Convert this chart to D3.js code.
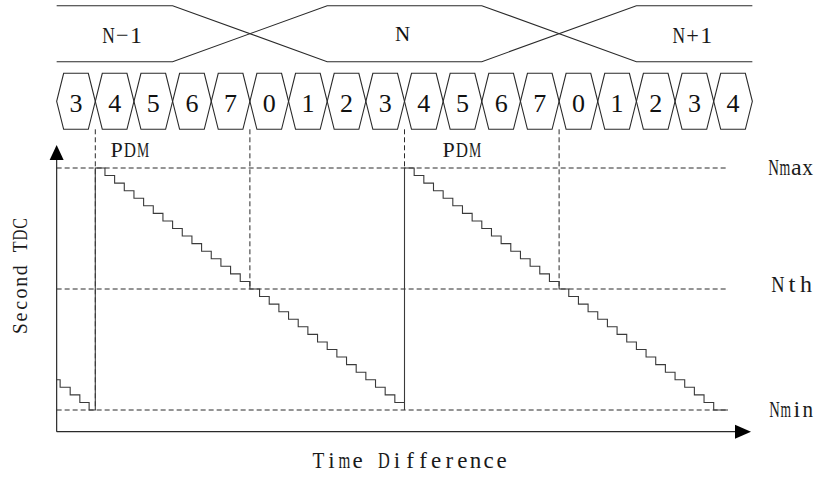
<!DOCTYPE html>
<html>
<head>
<meta charset="utf-8">
<script src="https://cdn.jsdelivr.net/npm/d3@7"></script>
<style>
  html, body { margin: 0; padding: 0; background: #fff; }
  svg { display: block; }
  .mono { font-family: "Liberation Serif", "DejaVu Serif", serif; fill: #1a1a1a; white-space: pre; }
  .serif { font-family: "Liberation Serif", "DejaVu Serif", serif; fill: #111; }
</style>
</head>
<body>
<svg id="chart" width="829" height="479"></svg>
<script>
// ---------- data ----------
const cellLabels = ["3","4","5","6","7","0","1","2","3","4","5","6","7","0","1","2","3","4"];
const frameLabels = ["N\u22121", "N", "N+1"];
const frameLabelT = [1.7, 8.95, 16.45];
const frameEdgesT = [0, 3, 7, 11, 15, 18];   // flat / crossing boundaries of the frame band
const levelNames = ["Nmax", "Nth", "Nmin"];
const levelCodes = [32, 16, 0];
const markerT = [1, 5, 9, 13];
const markerEndCode = [0, 16, 0, 16];
const pdmT = [1.38, 9.97];
const stairT = [
  0, 0.09, 0.35, 0.6, 0.84, 1,
  1, 1.25, 1.5, 1.75, 2, 2.25, 2.5, 2.75, 3, 3.25, 3.5, 3.75, 4, 4.25, 4.5, 4.75,
  5, 5.25, 5.5, 5.75, 6, 6.25, 6.5, 6.75, 7, 7.25, 7.5, 7.75, 8, 8.25, 8.5, 8.75, 9,
  9, 9.25, 9.5, 9.75, 10, 10.25, 10.5, 10.75, 11, 11.25, 11.5, 11.75, 12, 12.25, 12.5, 12.75,
  13, 13.25, 13.5, 13.75, 14, 14.25, 14.5, 14.75, 15, 15.25, 15.5, 15.75, 16, 16.25, 16.5, 16.75, 17,
  17.37
];
const stairCode = [
  4, 3, 2, 1, 0, 0,
  32, 31, 30, 29, 28, 27, 26, 25, 24, 23, 22, 21, 20, 19, 18, 17,
  16, 15, 14, 13, 12, 11, 10, 9, 8, 7, 6, 5, 4, 3, 2, 1, 0,
  32, 31, 30, 29, 28, 27, 26, 25, 24, 23, 22, 21, 20, 19, 18, 17,
  16, 15, 14, 13, 12, 11, 10, 9, 8, 7, 6, 5, 4, 3, 2, 1, 0,
  0
];
const levelLineEndT = 17.37;
const xAxisTitle = "Time Difference";
const yAxisTitle = "Second TDC";

// ---------- layout ----------
const svg = d3.select("#chart");
const x = d3.scaleLinear().domain([0, 18]).range([56.65, 752.35]);
const y = d3.scaleLinear().domain([0, 32]).range([410, 168]);
const ink = "#2a2a2a";

// fixed-pitch serif text: one text element, one tspan per character,
// each glyph squeezed/stretched into a half-width cell (like a Song-style CJK font)
function pitchText(parent, str, o) {
  const chars = Array.from(str);
  const n = chars.length;
  const c0 = o.anchor === "middle" ? -(n - 1) / 2 * o.pitch : o.pitch / 2;
  const t = parent.append("text").attr("class", "mono")
    .attr("transform", `translate(${o.x},${o.y})${o.rotate ? ` rotate(${o.rotate})` : ""}`)
    .attr("font-size", o.size).attr("text-anchor", "middle");
  const spans = t.selectAll("tspan").data(chars).join("tspan")
    .attr("x", (d, i) => c0 + i * o.pitch).attr("y", 0).text(d => d);
  const hi = o.pitch * (o.hi || 0.88), lo = o.pitch * (o.lo || 0.5);
  spans.each(function (d) {
    if (d === " ") return;
    const w = this.getComputedTextLength();
    const target = Math.max(lo, Math.min(hi, w));
    if (Math.abs(target - w) > 0.3) {
      d3.select(this).attr("textLength", target).attr("lengthAdjust", "spacingAndGlyphs");
    }
  });
  return t;
}

// frame band
const bandTop = 5.7, bandBot = 61.7;
const lineA = [[frameEdgesT[0], bandTop], [frameEdgesT[1], bandTop], [frameEdgesT[2], bandBot],
               [frameEdgesT[3], bandBot], [frameEdgesT[4], bandTop], [frameEdgesT[5], bandTop]];
const lineB = [[frameEdgesT[0], bandBot], [frameEdgesT[1], bandBot], [frameEdgesT[2], bandTop],
               [frameEdgesT[3], bandTop], [frameEdgesT[4], bandBot], [frameEdgesT[5], bandBot]];
const bandLine = d3.line().x(d => x(d[0])).y(d => d[1]);
svg.selectAll("path.band").data([lineA, lineB]).join("path")
  .attr("class", "band").attr("d", bandLine)
  .attr("fill", "none").attr("stroke", ink).attr("stroke-width", 1.1);

frameLabels.forEach((lab, i) => {
  if (i === 1) {
    svg.append("text").attr("class", "serif")
      .attr("x", x(frameLabelT[i])).attr("y", 41)
      .attr("text-anchor", "middle").attr("font-size", 21).text(lab);
  } else {
    pitchText(svg, lab, { x: x(frameLabelT[i]), y: 43, anchor: "middle", pitch: 13.7, size: 24, hi: 0.92 });
  }
});

// hexagon row
const hexTop = 73.3, hexBot = 129.3, hexMid = (hexTop + hexBot) / 2, slant = 7;
const hex = svg.append("g");
hex.selectAll("path").data(cellLabels).join("path")
  .attr("d", (d, i) => {
    const x0 = x(i), x1 = x(i + 1);
    return `M${x0},${hexMid}L${x0 + slant},${hexTop}L${x1 - slant},${hexTop}L${x1},${hexMid}L${x1 - slant},${hexBot}L${x0 + slant},${hexBot}Z`;
  })
  .attr("fill", "none").attr("stroke", ink).attr("stroke-width", 1.1);
hex.selectAll("text").data(cellLabels).join("text")
  .attr("class", "serif")
  .attr("x", (d, i) => x(i + 0.5))
  .attr("y", 112)
  .attr("text-anchor", "middle")
  .attr("font-size", 26)
  .text(d => d);

// dashed level lines
svg.selectAll("line.level").data(levelCodes).join("line")
  .attr("class", "level")
  .attr("x1", x(0)).attr("x2", x(levelLineEndT))
  .attr("y1", d => y(d)).attr("y2", d => y(d))
  .attr("stroke", ink).attr("stroke-width", 1).attr("stroke-dasharray", "5,3");

const levelLabelOpts = [
  { dx: 768, dy: 7, pitch: 11.3 },
  { dx: 771, dy: 3, pitch: 14 },
  { dx: 769, dy: 7, pitch: 11.1 }
];
levelNames.forEach((name, i) => {
  const o = levelLabelOpts[i];
  pitchText(svg, name, { x: o.dx, y: y(levelCodes[i]) + o.dy, anchor: "start", pitch: o.pitch, size: 24, hi: 0.95 });
});

// dashed vertical markers
svg.selectAll("line.marker").data(markerT).join("line")
  .attr("class", "marker")
  .attr("x1", d => x(d)).attr("x2", d => x(d))
  .attr("y1", hexBot).attr("y2", (d, i) => y(markerEndCode[i]))
  .attr("stroke", ink).attr("stroke-width", 1).attr("stroke-dasharray", "5,3");

// PDM labels
pdmT.forEach(t => {
  pitchText(svg, "PDM", { x: x(t), y: 157, anchor: "start", pitch: 13.3, size: 22, hi: 0.92 });
});

// staircase
const stairs = stairT.map((t, i) => [t, stairCode[i]]);
svg.append("path")
  .attr("d", d3.line().x(d => x(d[0])).y(d => y(d[1])).curve(d3.curveStepAfter)(stairs))
  .attr("fill", "none").attr("stroke", "#3a3a3a").attr("stroke-width", 1.1);

// axes
const axisY0 = 431.7, axisX0 = x(0);
svg.append("line").attr("x1", axisX0).attr("x2", 738).attr("y1", axisY0).attr("y2", axisY0)
  .attr("stroke", ink).attr("stroke-width", 1.2);
svg.append("line").attr("x1", axisX0).attr("x2", axisX0).attr("y1", axisY0).attr("y2", 158)
  .attr("stroke", ink).attr("stroke-width", 1.2);
svg.append("path").attr("d", `M751,${axisY0}L735,${axisY0 - 7}L735,${axisY0 + 7}Z`).attr("fill", "#000");
svg.append("path").attr("d", `M${axisX0},145L${axisX0 - 7},160L${axisX0 + 7},160Z`).attr("fill", "#000");

pitchText(svg, xAxisTitle, { x: 410, y: 468, anchor: "middle", pitch: 13.1, size: 23, hi: 0.9 });
pitchText(svg, yAxisTitle, { x: 27, y: 276, rotate: -90, anchor: "middle", pitch: 11.7, size: 20, hi: 0.92 });
</script>
</body>
</html>
